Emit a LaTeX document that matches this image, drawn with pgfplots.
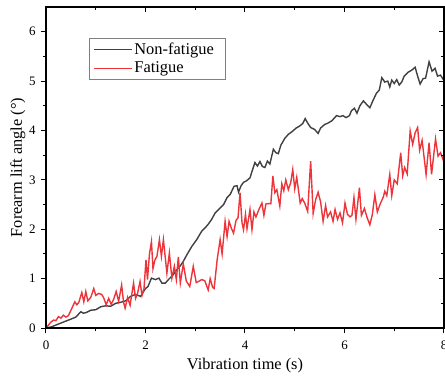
\documentclass[border=0pt]{standalone}
\usepackage{fontspec}
\setmainfont{Liberation Serif}
\usepackage{pgfplots}
\pgfplotsset{compat=1.18}
\definecolor{nf}{RGB}{64,64,64}
\definecolor{fa}{RGB}{236,52,58}
\begin{document}
\begin{tikzpicture}
\pgfplotsset{
  common/.style={
    scale only axis, width=398bp, height=321bp, at={(0,0)}, anchor=south west,
    xmin=0, xmax=8, ymin=0, ymax=6.5,
    xtick={0,2,4,6,8}, ytick={0,1,2,3,4,5,6},
    minor x tick num=1, minor y tick num=1,
    major tick length=5bp, minor tick length=3bp,
    axis line style={line width=1.2bp, black},
    tick style={black, line width=1bp},
    ticklabel style={font=\fontsize{13}{15}\selectfont},
    /pgf/number format/assume math mode=true,
  }
}
\begin{axis}[common, tick align=outside, xtick pos=bottom, ytick pos=left,
  xticklabel shift=4bp, yticklabel shift=2bp,
  xlabel={Vibration time (s)}, ylabel={Forearm lift angle (°)},
  label style={font=\fontsize{16.4}{19}\selectfont},
  xlabel style={at={(axis description cs:0.5,-0.1184)}, anchor=center},
  ylabel style={at={(axis description cs:-0.0704,0.5)}, anchor=center},
  legend style={at={(0.108,0.9034)}, anchor=north west, draw=gray, line width=0.8bp,
    font=\fontsize{16.5}{19}\selectfont, inner xsep=4bp, inner ysep=3bp, row sep=1.5bp},
  legend cell align=left,
  legend image code/.code={\draw[#1, line width=1bp] (0bp,0bp) -- (38bp,0bp);},
]
\addplot[nf, line width=1.4bp] coordinates {
(0,0) (0.1,0.02) (0.2,0.06) (0.3,0.10) (0.4,0.14) (0.5,0.18) (0.6,0.22) (0.7,0.33) (0.75,0.30)
(0.8,0.31) (0.9,0.36) (1.0,0.37) (1.1,0.43) (1.2,0.45) (1.3,0.44) (1.4,0.50) (1.5,0.52)
(1.6,0.55) (1.7,0.64) (1.8,0.68) (1.9,0.64) (2.0,0.80) (2.05,0.84) (2.12,1.01) (2.2,0.98)
(2.27,1.01) (2.33,0.91) (2.4,0.91) (2.46,0.98) (2.55,1.07) (2.63,1.18) (2.7,1.26) (2.76,1.35)
(2.83,1.48) (2.93,1.65) (3.03,1.79) (3.13,1.96) (3.2,2.03) (3.26,2.10) (3.33,2.20) (3.40,2.33)
(3.5,2.43) (3.57,2.50) (3.64,2.64) (3.7,2.70) (3.78,2.87) (3.84,2.88) (3.87,2.75) (3.92,2.88)
(3.97,2.95) (4.03,2.98) (4.10,3.04) (4.15,3.20) (4.20,3.35) (4.25,3.28) (4.30,3.37) (4.35,3.27)
(4.40,3.25) (4.45,3.38) (4.50,3.32) (4.57,3.62) (4.62,3.55) (4.67,3.53) (4.72,3.70) (4.80,3.84)
(4.87,3.92) (4.95,3.98) (5.03,4.05) (5.10,4.09) (5.16,4.14) (5.21,4.24) (5.26,4.15) (5.32,4.06)
(5.40,4.02) (5.47,3.94) (5.52,4.05) (5.60,4.12) (5.67,4.15) (5.75,4.20) (5.84,4.30) (5.91,4.28)
(5.97,4.30) (6.03,4.26) (6.10,4.30) (6.14,4.40) (6.20,4.45) (6.25,4.35) (6.31,4.50) (6.38,4.60)
(6.45,4.52) (6.51,4.46) (6.57,4.60) (6.64,4.75) (6.70,4.82) (6.75,5.07) (6.81,4.98) (6.87,5.00)
(6.91,4.88) (6.95,5.02) (7.00,4.95) (7.05,5.03) (7.10,4.92) (7.15,4.98) (7.20,5.10) (7.28,5.18)
(7.35,5.22) (7.42,5.28) (7.47,5.10) (7.52,4.94) (7.58,5.05) (7.63,5.06) (7.70,5.39) (7.76,5.20)
(7.82,5.26) (7.87,5.10) (7.93,5.12) (8.00,5.01)
};
\addlegendentry{Non-fatigue\rule{6bp}{0bp}}
\addplot[fa, line width=1.4bp] coordinates {
(0,0) (0.05,0.06) (0.1,0.12) (0.15,0.16) (0.2,0.15) (0.25,0.23) (0.3,0.20) (0.35,0.26) (0.4,0.22)
(0.45,0.25) (0.52,0.40) (0.58,0.53) (0.62,0.47) (0.66,0.52) (0.72,0.72) (0.76,0.53) (0.80,0.74)
(0.84,0.55) (0.90,0.62) (0.96,0.80) (1.00,0.66) (1.06,0.70) (1.12,0.68) (1.16,0.61) (1.21,0.47)
(1.26,0.60) (1.31,0.48) (1.36,0.58) (1.41,0.74) (1.46,0.54) (1.52,0.87) (1.56,0.52) (1.59,0.40)
(1.64,0.62) (1.69,0.46) (1.76,0.91) (1.80,0.60) (1.84,0.70) (1.89,0.94) (1.93,0.66) (1.97,0.80)
(2.01,1.38) (2.04,0.98) (2.08,1.50) (2.12,1.75) (2.15,1.20) (2.19,1.38) (2.23,1.45) (2.28,1.79)
(2.32,1.45) (2.36,1.79) (2.40,1.40) (2.43,1.11) (2.48,1.52) (2.53,1.01) (2.58,1.25) (2.62,0.98)
(2.66,1.44) (2.70,0.91) (2.76,1.30) (2.82,0.95) (2.89,0.84) (2.96,1.25) (3.02,0.92) (3.08,0.95)
(3.13,0.98) (3.19,0.96) (3.26,0.77) (3.30,1.00) (3.35,0.82) (3.38,0.80) (3.44,1.38) (3.50,1.79)
(3.54,1.50) (3.60,2.16) (3.64,1.85) (3.68,2.16) (3.73,2.01) (3.77,1.92) (3.82,2.18) (3.86,2.23)
(3.90,2.74) (3.94,2.13) (3.97,1.99) (4.01,2.30) (4.04,2.01) (4.10,2.40) (4.14,1.99) (4.18,2.35)
(4.22,2.25) (4.28,2.40) (4.34,2.53) (4.38,2.28) (4.42,2.51) (4.47,2.52) (4.52,2.52) (4.56,3.08)
(4.60,2.74) (4.64,2.80) (4.70,2.47) (4.74,2.92) (4.78,2.78) (4.82,3.00) (4.87,2.80) (4.92,2.95)
(4.96,3.21) (5.00,2.82) (5.04,3.05) (5.11,2.53) (5.15,2.62) (5.20,2.53) (5.26,2.36) (5.32,3.38)
(5.37,2.32) (5.42,2.60) (5.47,2.75) (5.52,2.55) (5.57,2.16) (5.62,2.48) (5.66,2.25) (5.72,2.35)
(5.77,2.16) (5.81,2.40) (5.86,2.20) (5.91,2.33) (5.96,2.13) (6.01,2.53) (6.06,2.30) (6.11,2.25)
(6.15,2.28) (6.19,2.64) (6.23,2.20) (6.30,2.84) (6.34,2.28) (6.40,2.42) (6.46,2.22) (6.51,2.09)
(6.56,2.30) (6.61,2.70) (6.66,2.35) (6.72,2.52) (6.78,2.65) (6.81,2.77) (6.85,2.68) (6.91,3.11)
(6.95,2.68) (7.00,3.00) (7.06,2.92) (7.13,3.55) (7.17,3.08) (7.21,3.25) (7.26,3.12) (7.32,3.99)
(7.37,3.72) (7.42,3.95) (7.47,4.06) (7.51,3.60) (7.56,3.80) (7.64,3.11) (7.70,3.75) (7.75,3.11)
(7.83,3.83) (7.88,3.48) (7.93,3.55) (8.00,3.36)
};
\addlegendentry{Fatigue}
\end{axis}
\begin{axis}[common, tick align=inside, xtick pos=top, ytick pos=right,
  xticklabels={}, yticklabels={}]
\end{axis}
\pgfresetboundingbox
\path (-46bp,-52bp) rectangle (399bp,328bp);
\end{tikzpicture}
\end{document}
